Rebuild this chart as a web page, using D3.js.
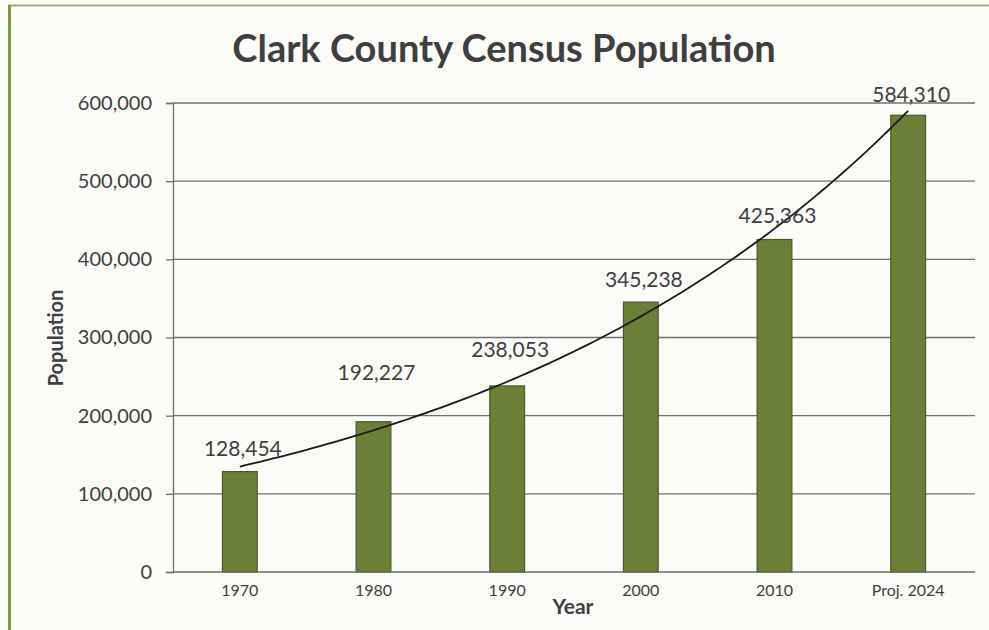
<!DOCTYPE html>
<html><head><meta charset="utf-8">
<script src="https://cdn.jsdelivr.net/npm/d3@7"></script>
<style>
html,body{margin:0;padding:0;background:#fbfbf8;}
svg{display:block;}
text{font-family:Lato,"Open Sans",sans-serif;fill:#3f3f3f;}
</style></head><body>
<svg id="chart" width="989" height="630"></svg>
<script>
const categories = ["1970","1980","1990","2000","2010","Proj. 2024"];
const population = [128454,192227,238053,345238,425363,584310];
const yTicks = [0,100000,200000,300000,400000,500000,600000];
const labelLift = [24,50,37,24,25,22];

const W=989,H=630;
const svg=d3.select("#chart");
const m={left:173,right:975,top:103,bottom:572};
const FONT="Lato,'Open Sans',sans-serif";

// background & frame
svg.append("rect").attr("width",W).attr("height",H).attr("fill","#fbfbf8");
svg.append("line").attr("x1",8).attr("x2",W).attr("y1",5.5).attr("y2",5.5).attr("stroke","#a4ab84").attr("stroke-width",2);
svg.append("line").attr("x1",9.5).attr("x2",9.5).attr("y1",5).attr("y2",H).attr("stroke","#7f9a45").attr("stroke-width",3);

const x=d3.scaleBand().domain(categories).range([m.left,m.right]).paddingInner(0.74).paddingOuter(0.37);
const y=d3.scaleLinear().domain([0,600000]).range([m.bottom,m.top]);

// gridlines
svg.append("g").selectAll("line").data(yTicks.filter(d=>d>0)).join("line")
  .attr("x1",m.left).attr("x2",m.right).attr("y1",d=>y(d)).attr("y2",d=>y(d))
  .attr("stroke","#707070").attr("stroke-width",1.3);

// y axis
const ya=svg.append("g").attr("transform",`translate(${m.left},0)`)
  .call(d3.axisLeft(y).tickValues(yTicks).tickSize(7).tickPadding(14).tickFormat(d3.format(",")));
ya.select(".domain").attr("stroke","#707070").attr("stroke-width",1.3);
ya.selectAll(".tick line").attr("stroke","#707070").attr("stroke-width",1.3);
ya.selectAll("text").attr("font-size",20).attr("fill","#3f3f3f").style("font-family",FONT);

// bars
svg.append("g").selectAll("rect").data(population).join("rect")
  .attr("x",(d,i)=>x(categories[i])).attr("width",x.bandwidth())
  .attr("y",d=>y(d)).attr("height",d=>y(0)-y(d))
  .attr("fill","#6b7f37").attr("stroke","#4a5a27").attr("stroke-width",1.2);

// x axis
const xa=svg.append("g").attr("transform",`translate(0,${m.bottom})`)
  .call(d3.axisBottom(x).tickSize(0).tickPadding(13));
xa.select(".domain").attr("stroke","#6a6a6a").attr("stroke-width",1.6).attr("d",`M${m.left},0H${m.right}`);
xa.selectAll("text").attr("font-size",16).attr("fill","#3f3f3f").style("font-family",FONT);

// exponential trendline (least squares on ln values)
const n=population.length;
const xs=d3.range(1,n+1), ls=population.map(Math.log);
const mx=d3.mean(xs), ml=d3.mean(ls);
const b=d3.sum(xs.map((v,i)=>(v-mx)*(ls[i]-ml)))/d3.sum(xs.map(v=>(v-mx)*(v-mx)));
const a=ml-b*mx;
const step=x.step();
const cx=t=>x(categories[0])+x.bandwidth()/2+(t-1)*step;
const pts=d3.range(1,n+0.001,0.05).map(t=>[cx(t),y(Math.exp(a+b*t))]);
svg.append("path").attr("d",d3.line().curve(d3.curveBasis)(pts))
  .attr("fill","none").attr("stroke","#1a1a1a").attr("stroke-width",1.8);

// data labels
svg.append("g").selectAll("text").data(population).join("text")
  .attr("x",(d,i)=>x(categories[i])+x.bandwidth()/2+3)
  .attr("y",(d,i)=>y(d)-labelLift[i])
  .attr("text-anchor","middle").attr("dominant-baseline","central")
  .attr("font-size",21).text(d=>d3.format(",")(d));

// titles
svg.append("text").attr("x",504).attr("y",62).attr("text-anchor","middle")
  .attr("font-size",38).attr("font-weight","bold").attr("fill","#3a3a3a").text("Clark County Census Population");
svg.append("text").attr("transform","translate(63,338) rotate(-90)").attr("text-anchor","middle")
  .attr("font-size",20).attr("font-weight","bold").text("Population");
svg.append("text").attr("x",573).attr("y",614).attr("text-anchor","middle")
  .attr("font-size",21).attr("font-weight","bold").text("Year");
</script></body></html>
